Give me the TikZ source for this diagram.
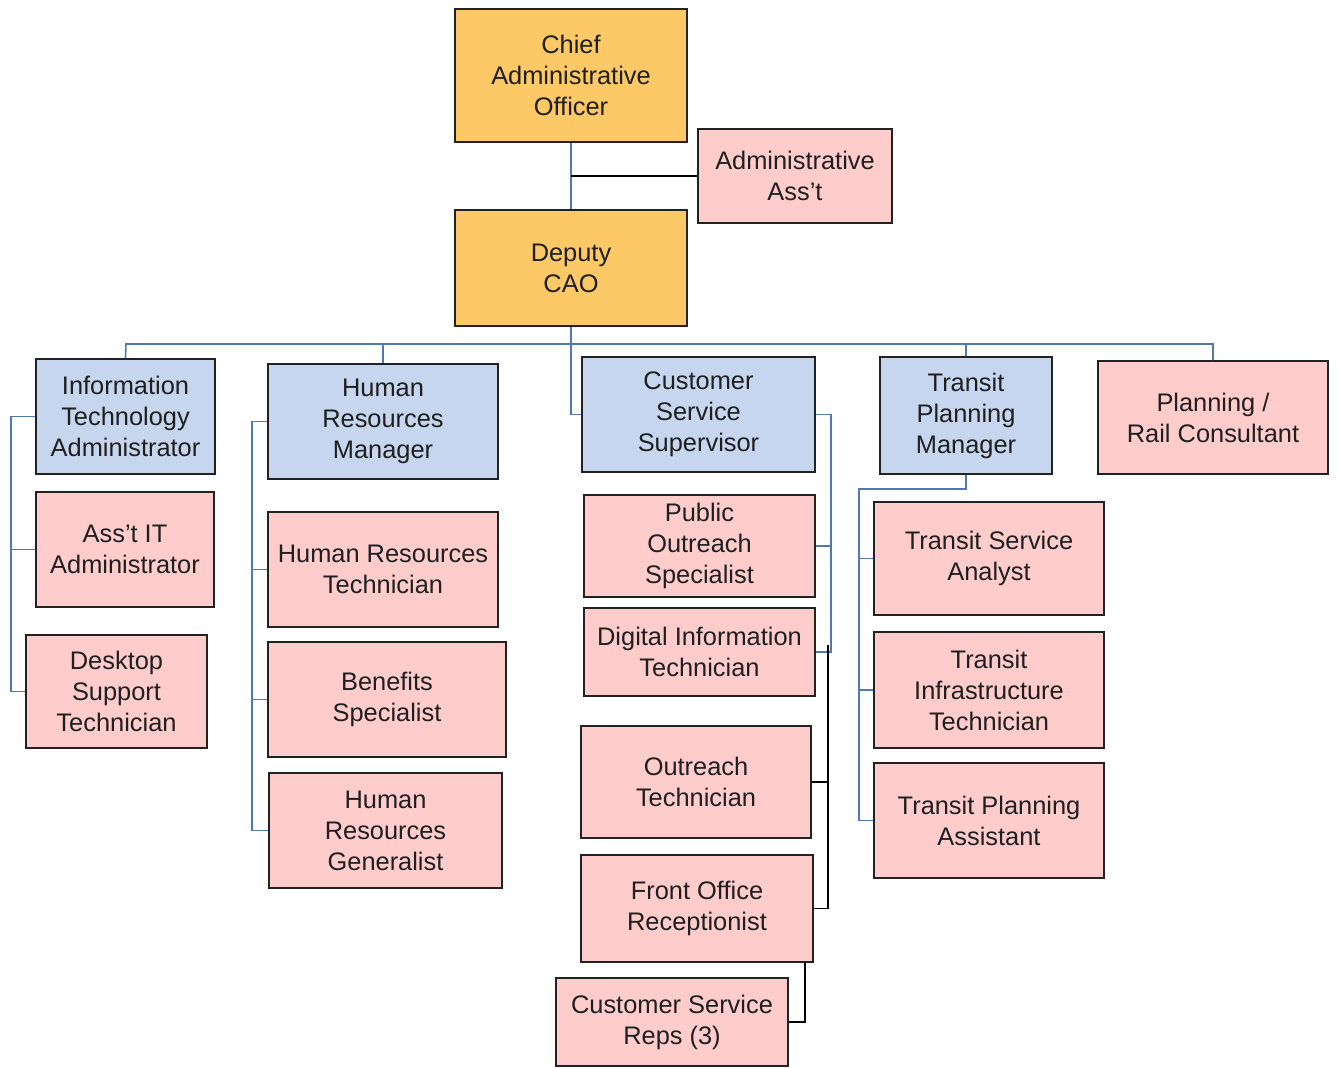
\documentclass[tikz,border=0pt]{standalone}
\usepackage{fontspec}
\setmainfont{Liberation Sans}
\usetikzlibrary{calc}
\definecolor{goldfill}{RGB}{253,200,102}
\definecolor{pinkfill}{RGB}{255,204,204}
\definecolor{bluefill}{RGB}{197,214,238}
\definecolor{linkblue}{RGB}{79,121,175}
\definecolor{edge}{RGB}{34,34,34}
\tikzset{
  box/.style={draw=edge, line width=1pt, align=center, inner sep=0pt,
    font=\fontsize{12.7}{15.5}\selectfont, text=black!88},
  exec/.style={box, fill=goldfill},
  mgr/.style={box, fill=bluefill},
  staff/.style={box, fill=pinkfill},
  bl/.style={draw=linkblue, line width=0.8pt},
  bk/.style={draw=black, line width=0.8pt},
}
\begin{document}
\begin{tikzpicture}[x=0.5pt,y=-0.5pt]
\useasboundingbox[fill=white] (0,0) rectangle (1338,1067);

% executive level
\node[exec, minimum width=116pt, minimum height=66.5pt] (cao) at (571,75.5) {Chief\\Administrative\\Officer};
\node[staff, minimum width=97pt, minimum height=47pt] (aa) at (795,176) {Administrative\\Ass’t};
\node[exec, minimum width=116pt, minimum height=58pt] (dep) at (571,268) {Deputy\\CAO};

% department heads
\node[mgr, minimum width=89.5pt, minimum height=57.5pt] (it) at (125.5,416.5) {Information\\Technology\\Administrator};
\node[mgr, minimum width=115pt, minimum height=57.5pt] (hr) at (383,421.5) {Human\\Resources\\Manager};
\node[mgr, minimum width=116.5pt, minimum height=57.5pt] (css) at (698.5,414.5) {Customer\\Service\\Supervisor};
\node[mgr, minimum width=86pt, minimum height=58.5pt] (tpm) at (966,415.5) {Transit\\Planning\\Manager};
\node[staff, minimum width=115pt, minimum height=56.5pt] (pr) at (1213,417.5) {Planning /\\Rail Consultant};

% information technology
\node[staff, minimum width=89pt, minimum height=57.5pt] (ait) at (125,549.5) {Ass’t IT\\Administrator};
\node[staff, minimum width=90.5pt, minimum height=56.5pt] (dst) at (116.5,691.5) {Desktop\\Support\\Technician};

% human resources
\node[staff, minimum width=115pt, minimum height=57.5pt] (hrt) at (383,569.5) {Human Resources\\Technician};
\node[staff, minimum width=119pt, minimum height=57.5pt] (ben) at (387,699.5) {Benefits\\Specialist};
\node[staff, minimum width=116.5pt, minimum height=57.5pt] (hrg) at (385.5,830.5) {Human\\Resources\\Generalist};

% customer service
\node[staff, minimum width=115.5pt, minimum height=51pt] (pos) at (699.5,546) {Public\\Outreach\\Specialist};
\node[staff, minimum width=115.5pt, minimum height=44pt] (dit) at (699.5,652) {Digital Information\\Technician};
\node[staff, minimum width=115pt, minimum height=56pt] (ot) at (696,782) {Outreach\\Technician};
\node[staff, minimum width=116pt, minimum height=53.5pt] (fo) at (697,908.5) {Front Office\\Receptionist};
\node[staff, minimum width=116pt, minimum height=44pt] (csr) at (672,1022) {Customer Service\\Reps (3)};

% transit planning
\node[staff, minimum width=115pt, minimum height=56.5pt] (tsa) at (989,558.5) {Transit Service\\Analyst};
\node[staff, minimum width=115pt, minimum height=58pt] (tit) at (989,690) {Transit\\Infrastructure\\Technician};
\node[staff, minimum width=115pt, minimum height=57.5pt] (tpa) at (989,820.5) {Transit Planning\\Assistant};

% reporting lines: executive
\draw[bl] (cao.south) -- (dep.north);
\draw[bk] (aa.west) -- (aa.west -| cao.south);

% reporting lines: main bus under the deputy
\coordinate (busL) at (126,344);
\draw[bl] (it.north) -- (busL) -- (busL -| pr.north) -- (pr.north);
\draw[bl] (hr.north) -- (hr.north |- busL);
\draw[bl] (tpm.north) -- (tpm.north |- busL);
\draw[bl] (dep.south) |- (css.west);

% information technology branch
\draw[bl] (it.west) -- ++(-24,0) |- (dst.west);
\draw[bl] (ait.west) -- ++(-24,0);

% human resources branch
\draw[bl] (hr.west) -- ++(-15,0) |- (hrg.west);
\draw[bl] (hrt.west) -- ++(-15,0);
\draw[bl] (ben.west) -- ++(-15,0);

% customer service branch
\draw[bl] (css.east) -- ++(15,0) |- (dit.east);
\draw[bl] (pos.east) -- ++(15,0);
\coordinate (cj) at (828,645);
\draw[bk] (cj) |- (fo.east);
\draw[bk] (ot.east) -- (ot.east -| cj);
\draw[bk] ($(fo.south east)+(-9,0)$) |- (csr.east);

% transit planning branch
\coordinate (tj) at (859,489);
\draw[bl] (tpm.south) |- (tj) |- (tpa.west);
\draw[bl] (tsa.west) -- (tsa.west -| tj);
\draw[bl] (tit.west) -- (tit.west -| tj);
\end{tikzpicture}
\end{document}
